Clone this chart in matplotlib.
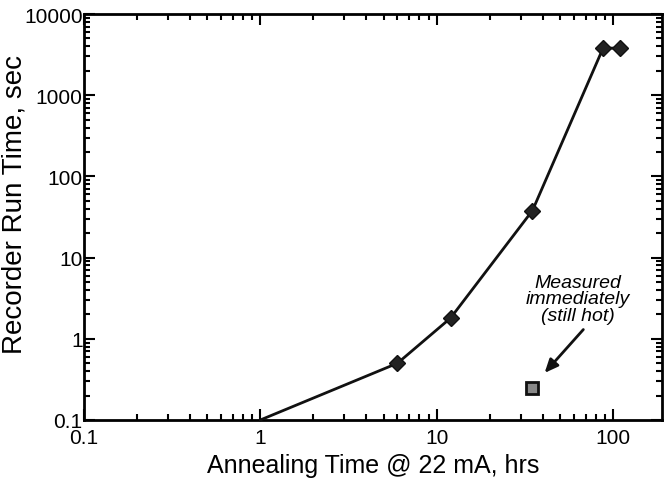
import matplotlib
matplotlib.use('Agg')
import matplotlib.pyplot as plt

plt.rcParams['font.family'] = ['Liberation Sans', 'DejaVu Sans']

# annealing series
anneal_hrs = [1, 6, 12, 35, 88, 110]
run_sec = [0.1, 0.5, 1.8, 38, 3800, 3800]

# measured immediately (still hot)
hot_hrs = [35]
hot_sec = [0.25]

fig = plt.figure(figsize=(6.67, 4.85), dpi=100)
ax = fig.add_axes([84 / 667, 1 - 421 / 485, (662 - 84) / 667, (421 - 15) / 485])

# first point sits on the axis corner; reference shows no marker there
ax.plot(anneal_hrs, run_sec, '-', color='#111111', lw=2,
        marker='D', markersize=8, markerfacecolor='#222222', markeredgecolor='#111111',
        markevery=slice(1, None), clip_on=False, zorder=3)
ax.plot(hot_hrs, hot_sec, 's', markersize=8, markerfacecolor='#888888',
        markeredgecolor='#111111', markeredgewidth=2, zorder=3)

ax.set_xscale('log')
ax.set_yscale('log')
ax.set_xlim(0.1, 190)
ax.set_ylim(0.1, 10000)

ax.set_xticks([0.1, 1, 10, 100])
ax.set_xticklabels(['0.1', '1', '10', '100'])
ax.set_yticks([0.1, 1, 10, 100, 1000, 10000])
ax.set_yticklabels(['0.1', '1', '10', '100', '1000', '10000'])

ax.tick_params(which='both', direction='in', top=True, right=True, width=1.5)
ax.tick_params(which='major', length=8, labelsize=15)
ax.tick_params(which='minor', length=4)
ax.tick_params(axis='x', which='major', pad=6)
ax.tick_params(axis='y', which='major', pad=1)
for sp in ax.spines.values():
    sp.set_linewidth(2)

ax.set_xlabel('Annealing Time @ 22 mA, hrs', fontsize=18, labelpad=4)
ax.set_ylabel('Recorder Run Time, sec', fontsize=20)
ax.yaxis.set_label_coords(-0.097, 0.534)

ax.text(63, 3.1, 'Measured\nimmediately\n(still hot)',
        fontsize=14, style='italic', ha='center', va='center', linespacing=0.95)
ax.annotate('', xy=(41, 0.38), xytext=(68, 1.3),
            arrowprops=dict(arrowstyle='-|>,head_length=0.8,head_width=0.35',
                            color='#111111', lw=2, shrinkA=0, shrinkB=0))

fig.savefig('out.png', dpi=100)
